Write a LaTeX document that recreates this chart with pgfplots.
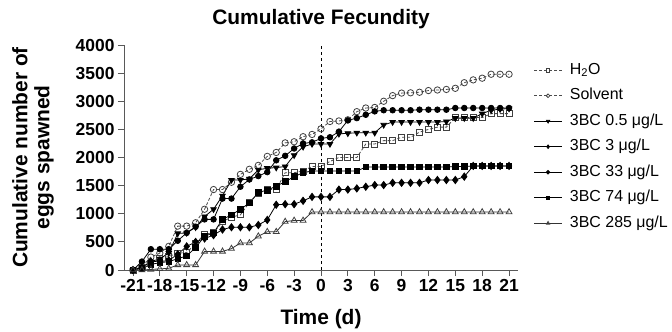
\documentclass[border=0pt]{standalone}
\usepackage{fontspec}
\setmainfont{Liberation Sans}
\usepackage{pgfplots}
\pgfplotsset{compat=1.18}
\usepackage{pgfplotstable}

\pgfplotstableread{
d   h2o  solv c05  c3   c33  c74  c285
-21 0    0    0    0    0    0    0
-20 40   60   50   40   150  30   0
-19 120  230  150  150  370  100  10
-18 200  300  200  150  370  130  20
-17 240  420  300  170  370  150  30
-16 300  780  650  280  520  200  90
-15 310  780  660  420  660  250  90
-14 470  840  760  500  770  400  90
-13 640  1080 950  560  900  600  330
-12 660  1430 1080 620  900  660  330
-11 860  1430 1320 720  1270 900  330
-10 940  1560 1600 760  1270 980  380
-9  980  1700 1600 760  1480 1080 480
-8  1200 1790 1620 760  1610 1190 480
-7  1360 1860 1780 800  1670 1380 600
-6  1430 2020 1810 890  1740 1420 680
-5  1430 2090 1820 1160 1950 1490 680
-4  1730 2260 1840 1170 2030 1570 860
-3  1730 2280 2040 1170 2160 1660 880
-2  1760 2370 2190 1230 2250 1730 880
-1  1840 2410 2240 1300 2270 1760 1030
0   1840 2510 2240 1300 2340 1760 1030
1   1930 2640 2240 1300 2360 1760 1030
2   2000 2650 2420 1430 2460 1760 1030
3   2000 2670 2430 1430 2660 1760 1030
4   2000 2815 2440 1450 2700 1760 1030
5   2240 2880 2440 1480 2760 1830 1030
6   2240 2890 2440 1510 2820 1830 1030
7   2300 3000 2580 1510 2840 1830 1030
8   2300 3100 2630 1550 2840 1830 1030
9   2360 3145 2630 1550 2840 1830 1030
10  2360 3150 2630 1550 2840 1830 1030
11  2450 3160 2630 1550 2850 1830 1030
12  2500 3190 2630 1600 2850 1830 1030
13  2540 3200 2630 1600 2850 1830 1030
14  2540 3210 2640 1600 2850 1830 1030
15  2710 3230 2700 1600 2880 1840 1030
16  2710 3330 2700 1660 2880 1840 1030
17  2710 3380 2700 1850 2880 1850 1030
18  2710 3410 2780 1850 2880 1850 1030
19  2780 3480 2840 1850 2880 1850 1030
20  2780 3480 2860 1850 2880 1850 1030
21  2780 3480 2870 1850 2880 1850 1030
}\fec

\begin{document}
\begin{tikzpicture}
\useasboundingbox (-124bp,-62bp) rectangle (548bp,270bp);
\begin{axis}[
  at={(0,0)}, anchor=south west,
  scale only axis, width=394bp, height=225bp,
  xmin=-22, xmax=22, ymin=0, ymax=4000,
  axis x line=bottom, axis y line=left,
  axis line style={-, black!65, line width=0.9bp},
  clip=false,
  xtick={-21,-18,...,21},
  xticklabels={-21,-18,-15,-12,-9,-6,-3,0,3,6,9,12,15,18,21},
  ytick={0,500,...,4000},
  yticklabels={0,500,1000,1500,2000,2500,3000,3500,4000},
  tick align=outside, major tick length=6bp,
  tick style={black!65, line width=0.8bp},
  tick label style={font=\bfseries\fontsize{17.5}{20}\selectfont},
  title={Cumulative Fecundity},
  title style={at={(axis description cs:0.5,1)}, anchor=base, yshift=15bp,
    font=\bfseries\fontsize{21}{24}\selectfont},
  xlabel={Time (d)},
  xlabel style={at={(axis description cs:0.5,0)}, anchor=base, yshift=-54bp,
    font=\bfseries\fontsize{21}{24}\selectfont},
  ylabel={Cumulative number of\\eggs spawned},
  ylabel style={at={(axis description cs:-0.231,0.5)}, anchor=center, align=center,
    font=\bfseries\fontsize{21}{22}\selectfont},
  legend style={at={(axis description cs:1.0393,0.931)}, anchor=north west,
    draw=none, fill=none, inner sep=0pt, row sep=6.5bp, column sep=6bp,
    font=\fontsize{16}{19}\selectfont,
    nodes={inner sep=1.5bp, text height=12bp, text depth=4bp}},
  legend cell align=left,
  legend image code/.code={\draw[mark repeat=2,mark phase=2,#1,mark size=1.8bp]
     plot coordinates {(0bp,0bp) (14bp,0bp) (28bp,0bp)};},
  every axis plot/.append style={line width=0.8bp},
]
\addplot[forget plot, black, dashed, line width=0.8bp] coordinates {(0,0) (0,4000)};
\addplot[black!70, dash pattern=on 3bp off 2bp, mark=square, mark size=3bp,
  mark options={solid, fill=white, draw=black!75}] table[x=d,y=h2o]{\fec};
\addlegendentry{H\textsubscript{2}O}
\addplot[black!70, dash pattern=on 3bp off 2bp, mark=o, mark size=3.2bp,
  mark options={solid, fill=white, draw=black!75}] table[x=d,y=solv]{\fec};
\addlegendentry{Solvent}
\addplot[black, mark=triangle*, mark size=3.2bp,
  mark options={rotate=180}] table[x=d,y=c05]{\fec};
\addlegendentry{3BC 0.5 μg/L}
\addplot[black, mark=diamond*, mark size=3.6bp] table[x=d,y=c3]{\fec};
\addlegendentry{3BC 3 μg/L}
\addplot[black, mark=*, mark size=2.8bp] table[x=d,y=c33]{\fec};
\addlegendentry{3BC 33 μg/L}
\addplot[black, mark=square*, mark size=2.8bp] table[x=d,y=c74]{\fec};
\addlegendentry{3BC 74 μg/L}
\addplot[black!80, mark=triangle, mark size=3.4bp,
  mark options={fill=white, draw=black!75}] table[x=d,y=c285]{\fec};
\addlegendentry{3BC 285 μg/L}
\end{axis}
\end{tikzpicture}
\end{document}
